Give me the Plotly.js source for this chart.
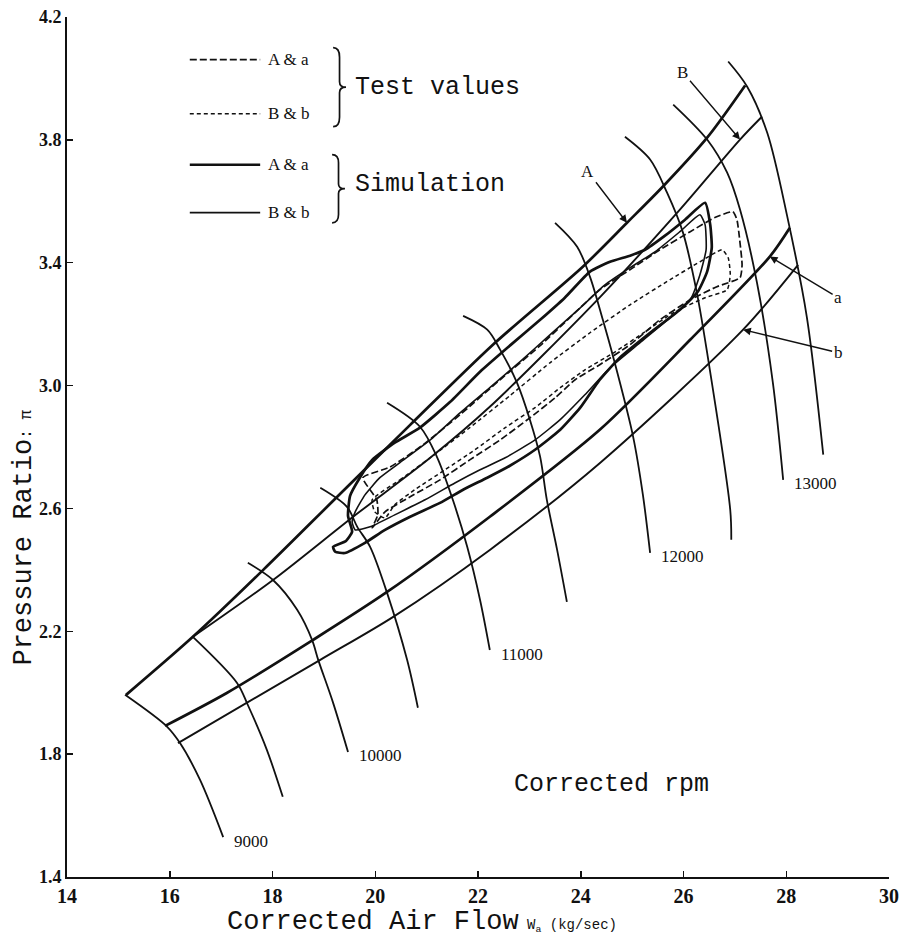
<!DOCTYPE html>
<html><head><meta charset="utf-8">
<script src="https://cdn.plot.ly/plotly-3.0.1.min.js"></script>
<style>html,body{margin:0;padding:0;background:#fff}</style>
</head><body><div id="chart" style="width:901px;height:942px"></div>
<script>
// ---- axis ticks ----
const xTicks = [14,16,18,20,22,24,26,28,30];
const yTicks = [1.4,1.8,2.2,2.6,3.0,3.4,3.8,4.2];
const yTickLabels = ['1.4','1.8','2.2','2.6','3.0','3.4','3.8','4.2'];

// ---- operating boundary lines ----
const lineA_x = [15.15,16.45,17.82,19.26,20.68,22.29,24.04,24.90,25.60,26.46,27.20];
const lineA_y = [1.993,2.182,2.400,2.638,2.872,3.133,3.387,3.530,3.648,3.807,3.977];
const lineB_x = [16.45,18.01,19.57,21.07,22.23,24.38,25.93,27.10,27.53];
const lineB_y = [2.182,2.367,2.573,2.765,2.931,3.289,3.573,3.801,3.876];
const linea_x = [15.91,17.11,18.79,20.23,22.23,24.37,26.13,27.68,28.07];
const linea_y = [1.892,1.999,2.172,2.328,2.573,2.856,3.149,3.420,3.514];
const lineb_x = [16.16,18.93,20.35,22.23,24.38,27.16,28.23];
const lineb_y = [1.836,2.107,2.247,2.465,2.749,3.182,3.393];

// ---- corrected speed lines (rpm) ----
const speedNames = [9000,9500,10000,10500,11000,11500,12000,12500,13000,13500];
const speedLabels = ['9000','','10000','','11000','','12000','','13000',''];
const n9000_x  = [15.13,15.95,16.20,16.59,17.04];
const n9000_y  = [1.993,1.889,1.836,1.716,1.530];
const n9500_x  = [16.45,17.31,17.52,17.89,18.20];
const n9500_y  = [2.182,2.032,1.960,1.814,1.661];
const n10000_x = [17.52,18.01,18.48,18.77,18.89,19.18,19.47];
const n10000_y = [2.423,2.367,2.270,2.172,2.107,1.967,1.807];
const n10500_x = [18.93,19.45,19.65,19.90,20.23,20.62,20.83];
const n10500_y = [2.667,2.605,2.540,2.475,2.325,2.107,1.951];
const n11000_x = [20.23,20.87,21.20,21.51,21.79,22.04,22.23];
const n11000_y = [2.944,2.866,2.768,2.628,2.475,2.302,2.139];
const n11500_x = [21.71,22.18,22.43,22.76,23.01,23.21,23.34,23.54,23.73];
const n11500_y = [3.227,3.182,3.117,3.009,2.889,2.768,2.628,2.465,2.296];
const n12000_x = [23.50,23.93,24.18,24.43,24.63,25.02,25.21,25.35];
const n12000_y = [3.530,3.452,3.354,3.214,3.094,2.833,2.644,2.455];
const n12500_x = [24.86,25.35,25.68,25.99,26.26,26.46,26.91,26.93];
const n12500_y = [3.810,3.736,3.628,3.498,3.302,3.107,2.595,2.498];
const n13000_x = [25.80,26.46,26.85,27.10,27.43,27.74,27.94];
const n13000_y = [3.915,3.801,3.693,3.573,3.335,3.009,2.693];
const n13500_x = [26.87,27.24,27.63,28.02,28.40,28.72];
const n13500_y = [4.055,3.973,3.823,3.550,3.224,2.775];
const speedX = [n9000_x,n9500_x,n10000_x,n10500_x,n11000_x,n11500_x,n12000_x,n12500_x,n13000_x,n13500_x];
const speedY = [n9000_y,n9500_y,n10000_y,n10500_y,n11000_y,n11500_y,n12000_y,n12500_y,n13000_y,n13500_y];

// ---- transient loops ----
const simAa_x = [19.41,19.22,19.18,19.43,19.55,19.47,19.51,19.70,19.94,20.38,20.87,21.46,22.04,22.62,23.21,23.69,24.18,24.57,24.96,25.25,25.64,26.03,26.42,26.52,26.55,26.46,26.28,25.93,25.35,24.76,24.37,23.99,23.60,23.11,22.62,22.18,21.71,21.26,20.68,20.19,19.80,19.41];
const simAa_y = [2.455,2.459,2.475,2.494,2.524,2.576,2.641,2.700,2.758,2.814,2.863,2.947,3.045,3.130,3.214,3.286,3.371,3.403,3.423,3.442,3.488,3.540,3.595,3.524,3.449,3.371,3.306,3.247,3.172,3.091,3.019,2.928,2.856,2.791,2.739,2.700,2.661,2.618,2.573,2.530,2.488,2.455];
const simBb_x = [19.61,19.80,20.09,20.48,21.07,21.65,22.23,22.82,23.40,23.99,24.47,24.96,25.45,25.93,26.32,26.42,26.44,26.32,26.13,25.74,25.15,24.57,24.08,23.60,23.11,22.53,22.04,21.55,20.97,20.38,19.90,19.61,19.55,19.61];
const simBb_y = [2.589,2.644,2.700,2.749,2.823,2.911,2.993,3.078,3.165,3.253,3.328,3.384,3.436,3.501,3.556,3.524,3.442,3.361,3.279,3.221,3.139,3.058,2.970,2.889,2.823,2.765,2.726,2.683,2.628,2.579,2.540,2.530,2.556,2.589];
const testAa_x = [19.76,20.29,20.93,21.65,22.43,23.21,23.85,24.37,25.02,25.54,26.13,26.61,26.96,27.04,27.10,27.14,27.10,26.65,26.13,25.54,24.96,24.37,23.89,23.50,23.01,22.43,21.84,21.26,20.68,20.19,19.94,20.05,20.03,19.76];
const testAa_y = [2.700,2.735,2.807,2.905,3.019,3.130,3.231,3.312,3.384,3.442,3.501,3.547,3.566,3.540,3.465,3.393,3.351,3.322,3.279,3.214,3.133,3.068,3.019,2.960,2.895,2.823,2.758,2.693,2.638,2.589,2.537,2.579,2.628,2.700];
const testBb_x = [19.94,20.48,21.07,21.84,22.62,23.40,24.18,24.96,25.74,26.32,26.75,26.87,26.91,26.85,26.42,25.83,25.25,24.67,24.08,23.60,23.11,22.53,21.94,21.36,20.77,20.38,20.19,19.99,19.94];
const testBb_y = [2.628,2.693,2.765,2.863,2.967,3.074,3.172,3.263,3.345,3.403,3.442,3.416,3.361,3.312,3.286,3.240,3.175,3.110,3.051,2.993,2.928,2.863,2.791,2.726,2.661,2.612,2.569,2.589,2.628];

const BLACK = '#111';
const traces = [];
function addLine(x, y, w, dash, smooth) {
  traces.push({type:'scatter', mode:'lines', x:x, y:y, hoverinfo:'skip', showlegend:false,
    line:{color:BLACK, width:w, dash:dash||'solid', shape:'spline', smoothing:smooth}});
}
addLine(lineA_x, lineA_y, 2.7, 'solid', 0.8);
addLine(lineB_x, lineB_y, 1.9, 'solid', 0.8);
addLine(linea_x, linea_y, 2.7, 'solid', 0.8);
addLine(lineb_x, lineb_y, 1.9, 'solid', 0.8);
speedX.forEach((sx, i) => addLine(sx, speedY[i], 1.8, 'solid', 0.9));
addLine(simAa_x, simAa_y, 2.7, 'solid', 0.5);
addLine(simBb_x, simBb_y, 1.6, 'solid', 0.5);
addLine(testAa_x, testAa_y, 1.7, '7px,3px', 0.5);
addLine(testBb_x, testBb_y, 1.5, '4px,3px', 0.5);

const serif = 'Liberation Serif, Times New Roman, serif';
const mono = 'Liberation Mono, DejaVu Sans Mono, monospace';

const annotations = [];
// speed labels at the low end of each labelled line
speedX.forEach((sx, i) => {
  if (!speedLabels[i]) return;
  annotations.push({x: sx[sx.length-1], y: speedY[i][speedY[i].length-1], xref:'x', yref:'y',
    text: speedLabels[i], showarrow:false, xanchor:'left', yanchor:'middle', xshift:9, yshift:-4,
    font:{family:serif, size:17, color:BLACK}});
});
function arrowLabel(txt, tipX, tipY, tx, ty) {
  annotations.push({x:tipX, y:tipY, ax:tx, ay:ty, xref:'x', yref:'y', axref:'x', ayref:'y',
    text:txt, showarrow:true, arrowhead:2, arrowsize:1.1, arrowwidth:1.4, arrowcolor:BLACK,
    font:{family:serif, size:17, color:BLACK}});
}
arrowLabel('A', 24.90, 3.530, 24.14, 3.696);
arrowLabel('B', 27.10, 3.801, 25.99, 4.019);
arrowLabel('a', 27.68, 3.420, 29.01, 3.286);
arrowLabel('b', 27.16, 3.182, 29.01, 3.107);

// legend
const legendRows = [
  {y:4.061, dash:'7px,3px', w:1.7, label:'A &amp; a'},
  {y:3.885, dash:'4px,3px', w:1.5, label:'B &amp; b'},
  {y:3.719, dash:'solid', w:2.7, label:'A &amp; a'},
  {y:3.563, dash:'solid', w:1.7, label:'B &amp; b'}
];
const shapes = [];
legendRows.forEach(r => {
  shapes.push({type:'line', xref:'x', yref:'y', x0:16.39, x1:17.76, y0:r.y, y1:r.y,
    line:{color:BLACK, width:r.w, dash:r.dash}});
  annotations.push({x:17.88, y:r.y, xref:'x', yref:'y', text:r.label, showarrow:false,
    xanchor:'left', yanchor:'middle', font:{family:serif, size:17, color:BLACK}});
});
function brace(xl, xr, yt, yb) {
  const xm = (xl + xr) / 2, h = yt - yb, ym = (yt + yb) / 2;
  return `M${xl},${yt} Q${xm},${yt} ${xm},${yt-0.12*h} L${xm},${ym+0.07*h} Q${xm},${ym} ${xr},${ym}` +
         ` Q${xm},${ym} ${xm},${ym-0.07*h} L${xm},${yb+0.12*h} Q${xm},${yb} ${xl},${yb}`;
}
shapes.push({type:'path', xref:'x', yref:'y', path:brace(19.18,19.43,4.100,3.843), line:{color:BLACK, width:1.7}});
shapes.push({type:'path', xref:'x', yref:'y', path:brace(19.16,19.41,3.752,3.530), line:{color:BLACK, width:1.7}});
annotations.push({x:19.57, y:3.970, xref:'x', yref:'y', text:'Test values', showarrow:false,
  xanchor:'left', yanchor:'middle', font:{family:mono, size:25, color:BLACK}});
annotations.push({x:19.57, y:3.654, xref:'x', yref:'y', text:'Simulation', showarrow:false,
  xanchor:'left', yanchor:'middle', font:{family:mono, size:25, color:BLACK}});
annotations.push({x:22.66, y:1.700, xref:'x', yref:'y', text:'Corrected rpm', showarrow:false,
  xanchor:'left', yanchor:'middle', font:{family:mono, size:25, color:BLACK}});
// axis titles
annotations.push({x:0.192, y:-0.052, xref:'paper', yref:'paper', showarrow:false, xanchor:'left', yanchor:'middle',
  text:'Corrected Air Flow<span style="font-size:14px"> W<sub>a</sub> (kg/sec)</span>',
  font:{family:mono, size:27, color:BLACK}});
annotations.push({x:-0.052, y:0.395, xref:'paper', yref:'paper', showarrow:false, textangle:-90,
  xanchor:'center', yanchor:'middle',
  text:'Pressure Ratio<span style="font-size:16px">: π</span>',
  font:{family:mono, size:27, color:BLACK}});

const axisCommon = {showgrid:false, zeroline:false, showline:true, linecolor:BLACK, linewidth:2,
  ticks:'inside', ticklen:6, tickwidth:1.5, tickcolor:BLACK, mirror:false};
const layout = {
  width:901, height:942, margin:{l:67, r:12, t:17, b:65},
  paper_bgcolor:'#fff', plot_bgcolor:'#fff', showlegend:false,
  xaxis: Object.assign({}, axisCommon, {range:[14,30], tickvals:xTicks, ticktext:xTicks.map(String),
    tickfont:{family:'Liberation Serif', size:20, color:BLACK, weight:700}}),
  yaxis: Object.assign({}, axisCommon, {range:[1.4,4.2], tickvals:yTicks, ticktext:yTickLabels,
    tickfont:{family:'Liberation Serif', size:18, color:BLACK, weight:700}}),
  annotations: annotations, shapes: shapes
};
Plotly.newPlot('chart', traces, layout, {staticPlot:true, displayModeBar:false});
</script></body></html>
